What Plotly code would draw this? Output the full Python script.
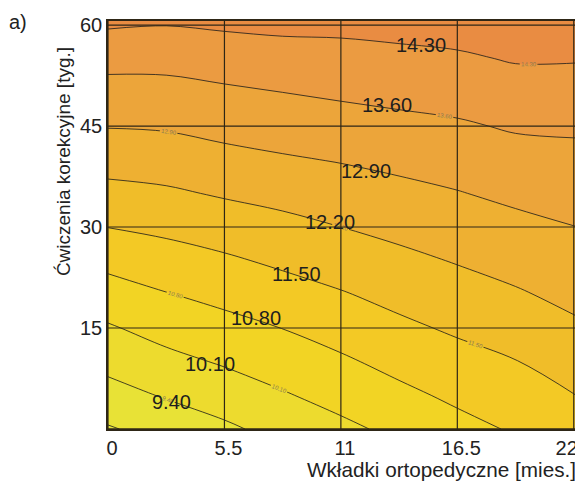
import plotly.graph_objects as go

# grid coordinates
x_vals = [0, 2.75, 5.5, 8.25, 11, 13.75, 16.5, 19.25, 22.2]
y_vals = [0, 5, 10, 15, 20, 25, 30, 35, 40, 45, 50, 55, 60.6]

z_rows = [
    [8.64, 8.95, 9.28, 9.62, 9.95, 10.26, 10.59, 10.87, 11.22],
    [9.14, 9.46, 9.73, 10.04, 10.33, 10.64, 10.93, 11.18, 11.51],
    [9.61, 9.91, 10.17, 10.43, 10.70, 11.00, 11.26, 11.48, 11.81],
    [10.03, 10.35, 10.58, 10.81, 11.08, 11.36, 11.60, 11.81, 12.11],
    [10.50, 10.77, 10.99, 11.22, 11.45, 11.70, 11.92, 12.13, 12.38],
    [10.99, 11.21, 11.40, 11.62, 11.83, 12.04, 12.24, 12.43, 12.64],
    [11.51, 11.65, 11.83, 12.01, 12.20, 12.38, 12.56, 12.73, 12.90],
    [12.00, 12.10, 12.27, 12.41, 12.57, 12.72, 12.87, 13.04, 13.16],
    [12.47, 12.54, 12.70, 12.83, 12.94, 13.07, 13.19, 13.35, 13.42],
    [12.93, 12.97, 13.11, 13.22, 13.32, 13.43, 13.52, 13.67, 13.70],
    [13.35, 13.37, 13.49, 13.60, 13.70, 13.78, 13.86, 14.01, 14.02],
    [13.82, 13.82, 13.93, 14.02, 14.07, 14.14, 14.21, 14.35, 14.34],
    [14.43, 14.37, 14.44, 14.49, 14.49, 14.54, 14.60, 14.74, 14.71],
]

# contour levels
level_start = 8.70
level_end = 14.30
level_step = 0.70

# big level labels and where they sit
label_texts = ["14.30", "13.60", "12.90", "12.20", "11.50", "10.80", "10.10", "9.40"]
label_x = [14.8, 13.2, 12.2, 10.5, 8.9, 7.0, 4.8, 3.0]
label_y = [57.1, 48.1, 38.3, 30.8, 23.0, 16.5, 9.7, 4.0]

# axes ticks
x_ticks = [0, 5.5, 11, 16.5, 22]
x_ticktext = ["0", "5.5", "11", "16.5", "22"]
y_ticks = [15, 30, 45, 60]
y_ticktext = ["15", "30", "45", "60"]

band_colors = ["#e4e43e", "#e8e236", "#eddb2e", "#f2d424", "#f3c925",
               "#f0bd29", "#eeb032", "#eca53a", "#eb9b41", "#e98c42"]
n = len(band_colors)
colorscale = [[i / (n - 1), c] for i, c in enumerate(band_colors)]

FONT = "Liberation Sans"
TXT = "#222222"

# last x tick label is pulled left so it stays inside the page, as in the reference
NBSP = "\u00a0"
x_ticktext_drawn = x_ticktext[:-1] + [x_ticktext[-1] + NBSP * 4]

fig = go.Figure()
fig.add_trace(go.Contour(
    x=x_vals, y=y_vals, z=z_rows,
    colorscale=colorscale,
    showscale=False,
    contours=dict(start=level_start, end=level_end, size=level_step,
                  coloring="fill", showlabels=True, labelformat=".2f",
                  labelfont=dict(size=6, color="#8a7a50", family=FONT)),
    line=dict(color="#1a1a1a", width=0.8, smoothing=1.0),
    hoverinfo="skip",
))

grid_color = "#2e2616"
shapes = []
for xv in x_ticks:
    shapes.append(dict(type="line", xref="x", yref="y", x0=xv, x1=xv, y0=0, y1=60.6,
                       line=dict(color=grid_color, width=1.2), layer="above"))
for yv in y_ticks:
    shapes.append(dict(type="line", xref="x", yref="y", x0=0, x1=22.2, y0=yv, y1=yv,
                       line=dict(color=grid_color, width=1.2), layer="above"))
shapes.append(dict(type="line", xref="x", yref="y", x0=0, x1=22.2, y0=0, y1=0,
                   line=dict(color=grid_color, width=1.5), layer="above"))

annotations = []
for t, ax, ay in zip(label_texts, label_x, label_y):
    annotations.append(dict(x=ax, y=ay, xref="x", yref="y", text=t, showarrow=False,
                            font=dict(family=FONT, size=20, color="#1e1e1e")))
annotations.append(dict(x=-0.215, y=1.03, xref="paper", yref="paper", text="a)",
                        showarrow=False, xanchor="left", yanchor="top",
                        font=dict(family=FONT, size=20, color=TXT)))
annotations.append(dict(x=-0.095, y=0.655, xref="paper", yref="paper",
                        xanchor="center", yanchor="middle",
                        text="Ćwiczenia korekcyjne [tyg.]", textangle=-90, showarrow=False,
                        font=dict(family=FONT, size=19, color=TXT)))
annotations.append(dict(x=1.0, y=-0.1, xref="paper", yref="paper",
                        text="Wkładki ortopedyczne [mies.]", showarrow=False,
                        xanchor="right", yanchor="middle",
                        font=dict(family=FONT, size=20.7, color=TXT)))

fig.update_layout(
    width=575, height=477,
    margin=dict(l=100, r=5, t=13, b=56, autoexpand=False),
    paper_bgcolor="white", plot_bgcolor="white",
    shapes=shapes, annotations=annotations,
    showlegend=False,
    xaxis=dict(range=[0, 22.2], tickvals=x_ticks, ticktext=x_ticktext_drawn, showgrid=False,
               zeroline=False, ticks="", ticklen=0, ticklabelshift=4,
               ticklabeloverflow="allow", automargin=False,
               tickfont=dict(family=FONT, size=20, color=TXT),
               showline=True, linecolor=grid_color, linewidth=1.5, mirror=True),
    yaxis=dict(range=[0, 60.6], tickvals=y_ticks, ticktext=y_ticktext, showgrid=False,
               zeroline=False, ticks="", ticklen=0, automargin=False,
               tickfont=dict(family=FONT, size=20, color=TXT),
               showline=True, linecolor=grid_color, linewidth=1.5, mirror=True),
)

fig.write_html("out.html")
